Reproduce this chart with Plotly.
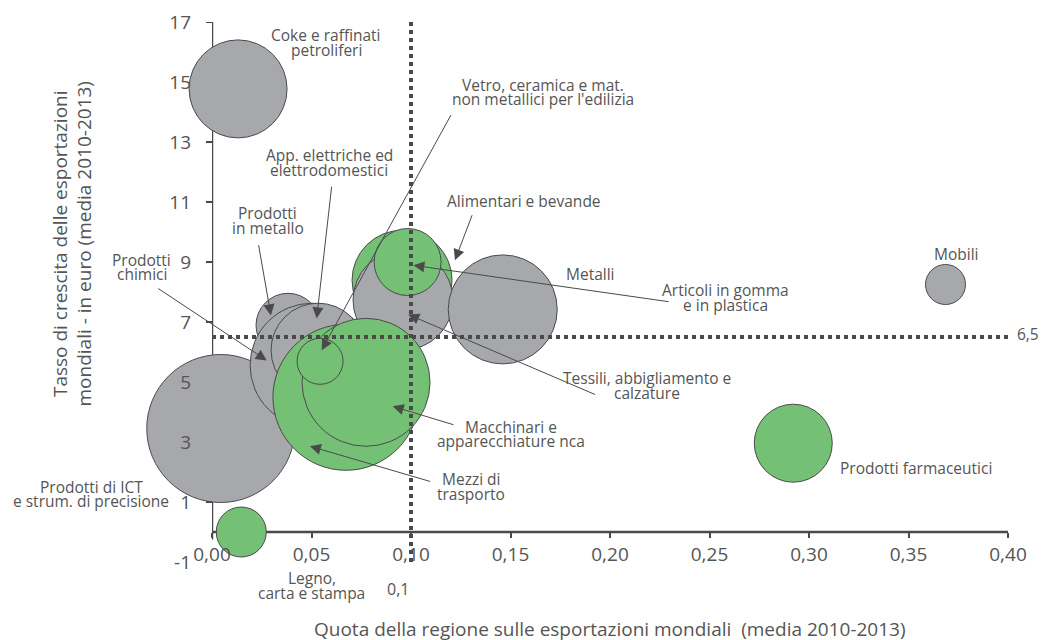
import plotly.graph_objects as go

# ---------------- data ----------------
categorie = [
    "Prodotti di ICT e strum. di precisione", "Coke e raffinati petroliferi", "Mobili",
    "Prodotti farmaceutici", "Legno, carta e stampa", "Prodotti in metallo",
    "Prodotti chimici", "App. elettriche ed elettrodomestici", "Alimentari e bevande",
    "Tessili, abbigliamento e calzature", "Articoli in gomma e in plastica", "Metalli",
    "Mezzi di trasporto", "Macchinari e apparecchiature nca",
    "Vetro, ceramica e mat. non metallici per l'edilizia",
]
quota = [0.0044, 0.0131, 0.3686, 0.2921, 0.0147, 0.0382, 0.0503, 0.0533, 0.0955,
         0.0960, 0.0983, 0.1461, 0.0673, 0.0774, 0.0543]
crescita = [3.45, 14.77, 8.25, 2.96, 0.0, 6.89, 5.56, 6.06, 8.39,
            7.73, 9.0, 7.42, 4.49, 4.99, 5.69]
dimensione = [74, 49, 20, 39, 25, 32, 62, 47, 50, 50, 33.5, 54.5, 73, 64, 23]
gruppo = ["g", "g", "g", "v", "v", "g", "g", "g", "v", "g", "v", "g", "v", "v", "v"]

soglia_x = 0.1
soglia_y = 6.5
x_range = [0, 0.4]
y_range = [-1, 17]
x_ticks = [0.0, 0.05, 0.10, 0.15, 0.20, 0.25, 0.30, 0.35, 0.40]
y_ticks = [-1, 1, 3, 5, 7, 9, 11, 13, 15, 17]

titolo_x = "Quota della regione sulle esportazioni mondiali  (media 2010-2013)"
titolo_y = "Tasso di crescita delle esportazioni<br>mondiali - in euro (media 2010-2013)"

# labels: (text lines, x, y) in data units
etichette = [
    (["Coke e raffinati", "petroliferi"], 0.0573, 16.31),
    (["Vetro, ceramica e mat.", "non metallici per l'edilizia"], 0.1661, 14.67),
    (["App. elettriche ed", "elettrodomestici"], 0.0588, 12.32),
    (["Prodotti", "in metallo"], 0.0281, 10.39),
    (["Prodotti", "chimici"], -0.0354, 8.83),
    (["Alimentari e bevande"], 0.1566, 11.02),
    (["Metalli"], 0.1902, 8.61),
    (["Articoli in gomma", "e in plastica"], 0.2578, 7.81),
    (["Mobili"], 0.3741, 9.28),
    (["Tessili, abbigliamento e", "calzature"], 0.2188, 4.89),
    (["Macchinari e", "apparecchiature nca"], 0.1505, 3.27),
    (["Mezzi di", "trasporto"], 0.1304, 1.52),
    (["Prodotti farmaceutici"], 0.3538, 2.13),
    (["Prodotti di ICT", "e strum. di precisione"], -0.0608, 1.27),
    (["Legno,", "carta e stampa"], 0.0501, -1.79),
    (["6,5"], 0.4098, 6.61),
]
# arrows: (tail x, tail y, head x, head y)
frecce = [
    (0.1205, 13.95, 0.0551, 6.06),
    (0.0602, 11.56, 0.0526, 7.12),
    (0.0233, 9.61, 0.0296, 7.22),
    (-0.0278, 8.15, 0.0275, 5.72),
    (0.1310, 10.61, 0.1221, 9.06),
    (0.2302, 7.67, 0.1012, 8.89),
    (0.1933, 4.56, 0.0986, 7.25),
    (0.1221, 3.56, 0.0908, 4.19),
    (0.1104, 1.67, 0.0492, 2.86),
]

# ---------------- style ----------------
COL = {"g": "#a7a8ac", "v": "#74c176"}
DARK = "#4a4a4a"
TXT = "#555555"
FONT = "Open Sans"
W, H = 1043, 640
ML, MR, MT, MB = 212, 35, 22, 78
PW, PH = W - ML - MR, H - MT - MB


def xp(x):
    return (x - x_range[0]) / (x_range[1] - x_range[0])


def yp(y):
    return (y - y_range[0]) / (y_range[1] - y_range[0])


fig = go.Figure()
fig.add_trace(go.Scatter(
    x=quota, y=crescita, mode="markers", text=categorie, hoverinfo="text",
    marker=dict(size=dimensione, sizemode="diameter", sizeref=0.5,
                color=[COL[g] for g in gruppo], opacity=1,
                line=dict(color=DARK, width=1)),
    showlegend=False, cliponaxis=False,
))

# axis lines (below bubbles)
fig.add_shape(type="line", xref="x", yref="y", x0=0, x1=0.4, y0=0, y1=0,
              line=dict(color=DARK, width=2.5), layer="below")
fig.add_shape(type="line", xref="x", yref="y", x0=0, x1=0, y0=-0.25, y1=17,
              line=dict(color=DARK, width=2.5), layer="below")
for v in y_ticks:
    if v >= 0:
        fig.add_shape(type="line", xref="paper", yref="y", x0=-6 / PW, x1=0, y0=v, y1=v,
                      line=dict(color=DARK, width=2), layer="below")

# dotted threshold lines
fig.add_shape(type="line", xref="x", yref="y", x0=soglia_x, x1=soglia_x, y0=-1, y1=17,
              line=dict(color=DARK, width=4, dash="4px,4px"))
fig.add_shape(type="line", xref="x", yref="y", x0=0, x1=0.4, y0=soglia_y, y1=soglia_y,
              line=dict(color=DARK, width=4, dash="4px,4px"))

anns = []
LS = 14.7
for righe, x, y in etichette:
    n = len(righe)
    for i, r in enumerate(righe):
        anns.append(dict(x=xp(x), y=yp(y), xref="paper", yref="paper", text=r,
                         xanchor="center", yanchor="middle",
                         showarrow=False, yshift=((n - 1) / 2 - i) * LS,
                         font=dict(family=FONT, size=15.5, color=TXT)))
for tx, ty, hx, hy in frecce:
    anns.append(dict(x=hx, y=hy, ax=tx, ay=ty, xref="x", yref="y", axref="x", ayref="y",
                     text="", showarrow=True, arrowhead=2, arrowsize=2.2, arrowwidth=1,
                     arrowcolor=DARK, standoff=0, startstandoff=0))
anns.append(dict(x=xp(soglia_x), y=yp(-1.89), xref="paper", yref="paper", text="0,1",
                 showarrow=False, xanchor="right", yanchor="middle",
                 font=dict(family=FONT, size=16, color=TXT)))
anns.append(dict(x=(610 - ML) / PW, y=-(629 - (H - MB)) / PH, xref="paper", yref="paper",
                 text=titolo_x, showarrow=False, xanchor="center", yanchor="middle",
                 font=dict(family=FONT, size=19, color=TXT)))
anns.append(dict(x=(71.5 - ML) / PW, y=((H - MB) - 244) / PH, xref="paper", yref="paper",
                 text=titolo_y, showarrow=False, textangle=-90,
                 xanchor="center", yanchor="middle",
                 font=dict(family=FONT, size=19, color=TXT)))

fig.update_layout(
    width=W, height=H,
    margin=dict(l=ML, r=MR, t=MT, b=MB, autoexpand=False),
    paper_bgcolor="white", plot_bgcolor="white",
    separators=",.",
    font=dict(family=FONT, color=TXT),
    annotations=anns,
    xaxis=dict(range=x_range, tickvals=x_ticks, tickformat=".2f",
               showgrid=False, zeroline=False, showline=False,
               anchor="free", position=yp(0), automargin=False,
               ticks="outside", ticklen=5, tickwidth=2, tickcolor=DARK,
               tickfont=dict(family=FONT, size=19, color=TXT)),
    yaxis=dict(range=y_range, tickvals=y_ticks, ticktext=[str(v) for v in y_ticks],
               showgrid=False, zeroline=False, automargin=False,
               showline=False, ticks="", ticklabelstandoff=20,
               tickfont=dict(family=FONT, size=19, color=TXT)),
)

fig.write_html("out.html", config={"displayModeBar": False},
               post_script="document.body.style.margin='0';")
